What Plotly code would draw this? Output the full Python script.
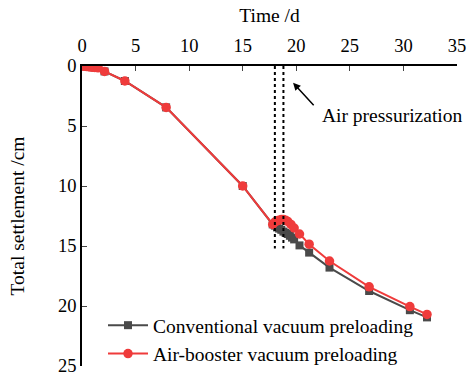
import plotly.graph_objects as go

# Data (time in days, settlement in cm)
conv_time = [0, 0.2, 0.4, 0.6, 0.8, 1.0, 1.2, 1.5, 2.1, 4.0, 7.85, 15.0,
             17.8, 18.0, 18.2, 18.4, 18.6, 18.8, 19.0, 19.2, 19.4, 19.6, 19.8,
             20.3, 21.2, 23.1, 26.8, 30.6, 32.2]
conv_settle = [0, 0.02, 0.04, 0.06, 0.08, 0.1, 0.12, 0.15, 0.45, 1.25, 3.45, 10.0,
               13.2, 13.3, 13.45, 13.55, 13.65, 13.8, 13.9, 14.0, 14.15, 14.3, 14.45,
               14.95, 15.55, 16.8, 18.75, 20.35, 20.95]

air_time = [0, 0.2, 0.4, 0.6, 0.8, 1.0, 1.2, 1.5, 2.1, 4.0, 7.85, 15.0,
            17.8, 18.0, 18.2, 18.4, 18.6, 18.8, 19.0, 19.2, 19.5, 19.8,
            20.3, 21.2, 23.1, 26.8, 30.6, 32.2]
air_settle = [0, 0.02, 0.04, 0.06, 0.08, 0.1, 0.12, 0.15, 0.45, 1.25, 3.45, 10.0,
              13.2, 13.0, 12.9, 12.85, 12.8, 12.8, 12.85, 12.95, 13.2, 13.5,
              14.0, 14.85, 16.25, 18.4, 20.05, 20.7]

series_names = ["Conventional vacuum preloading", "Air-booster vacuum preloading"]
pressurization_times = [18.0, 18.8]
pressurization_depth = 15.2
x_ticks = [0, 5, 10, 15, 20, 25, 30, 35]
y_ticks = [0, 5, 10, 15, 20, 25]

FONT = "Times New Roman, Liberation Serif, DejaVu Serif, serif"
GRAY = "#4a4a4a"
RED = "#ef3b3b"
TXT = 19.5
TICK = 18.5

fig = go.Figure()
fig.add_trace(go.Scatter(
    x=conv_time, y=conv_settle, mode="lines+markers", name=series_names[0],
    line=dict(color=GRAY, width=2),
    marker=dict(symbol="square", size=8, color=GRAY),
))
fig.add_trace(go.Scatter(
    x=air_time, y=air_settle, mode="lines+markers", name=series_names[1],
    line=dict(color=RED, width=2),
    marker=dict(symbol="circle", size=9.5, color=RED),
))

for t in pressurization_times:
    fig.add_shape(type="line", xref="x", yref="y", x0=t, x1=t, y0=0, y1=pressurization_depth,
                  line=dict(color="black", width=2, dash="3px,3px"))

fig.add_annotation(x=19.7, y=1.4, ax=21.75, ay=3.4, axref="x", ayref="y",
                   xref="x", yref="y", text="", showarrow=True,
                   arrowhead=2, arrowsize=1, arrowwidth=1.5, arrowcolor="black")
fig.add_annotation(x=22.2, y=4.15, xref="x", yref="y", text="Air pressurization",
                   showarrow=False, xanchor="left", yanchor="middle",
                   font=dict(family=FONT, size=TXT, color="black"))

fig.update_layout(
    width=470, height=376,
    margin=dict(l=82, r=13, t=66, b=10, autoexpand=False),
    paper_bgcolor="white", plot_bgcolor="white",
    font=dict(family=FONT, size=TXT, color="black"),
    showlegend=True,
    legend=dict(x=0.056, y=0.2, xanchor="left", yanchor="top",
                bgcolor="rgba(0,0,0,0)", font=dict(family=FONT, size=TXT),
                tracegroupgap=0, itemwidth=40),
)
fig.update_xaxes(
    side="top", range=[0, 35], tickvals=x_ticks, ticks="inside", ticklen=5,
    ticklabelstandoff=5, automargin=False, ticklabeloverflow="allow",
    showline=True, linecolor="black", linewidth=1.5, showgrid=False, zeroline=False,
    title=dict(text="Time /d", font=dict(family=FONT, size=TXT), standoff=8),
    tickfont=dict(family=FONT, size=TICK),
)
fig.update_yaxes(
    range=[25, 0], tickvals=y_ticks, ticks="inside", ticklen=5, automargin=False,
    ticklabeloverflow="allow",
    showline=True, linecolor="black", linewidth=1.5, showgrid=False, zeroline=False,
    title=dict(text="Total settlement /cm", font=dict(family=FONT, size=TXT), standoff=28),
    tickfont=dict(family=FONT, size=TICK),
)

fig.write_html("out.html", config={"displayModeBar": False},
               post_script="document.body.style.margin='0';")
